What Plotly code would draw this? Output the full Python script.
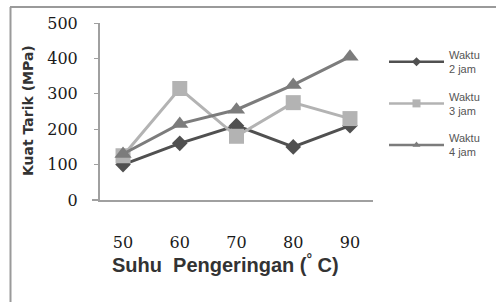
import plotly.graph_objects as go

temps = ["50", "60", "70", "80", "90"]
waktu2 = [100, 160, 210, 150, 210]
waktu3 = [125, 315, 180, 275, 230]
waktu4 = [130, 215, 255, 325, 405]
names = ["Waktu<br>2 jam", "Waktu<br>3 jam", "Waktu<br>4 jam"]
yticks = [0, 100, 200, 300, 400, 500]

colors = ["#505050", "#b3b3b3", "#7c7c7c"]
symbols = ["diamond", "square", "triangle-up"]
msizes = [12, 15, 15]
lsizes = [7, 8, 7]
series = [waktu2, waktu3, waktu4]

W, H = 496, 302
L, R, T, B = 100, 123, 23, 102

fig = go.Figure()
for i, ys in enumerate(series):
    fig.add_trace(go.Scatter(x=temps, y=ys, name=names[i], mode="lines+markers",
                             showlegend=False,
                             line=dict(color=colors[i], width=3),
                             marker=dict(symbol=symbols[i], size=msizes[i], color=colors[i])))
for i in range(3):
    fig.add_trace(go.Scatter(x=[None], y=[None], name=names[i], mode="lines+markers",
                             legendgroup="g%d" % i,
                             line=dict(color=colors[i], width=2.5),
                             marker=dict(symbol=symbols[i], size=lsizes[i], color=colors[i])))

pw, ph = W - L - R, H - T - B
def px(x):
    return (x - L) / pw
def py(y):
    return (H - B - y) / ph

tickfont = dict(family="DejaVu Serif", size=16, color="#1a1a1a")

fig.update_layout(
    width=W, height=H,
    margin=dict(l=L, r=R, t=T, b=B, autoexpand=False),
    paper_bgcolor="white", plot_bgcolor="white",
    showlegend=True,
    legend=dict(x=px(384), y=py(41), xanchor="left", yanchor="top",
                font=dict(family="Liberation Sans", size=11, color="#555"),
                itemwidth=55, tracegroupgap=10, bgcolor="rgba(0,0,0,0)"),
    xaxis=dict(type="category", showgrid=False, showline=True, linecolor="#a0a0a0",
               linewidth=2, ticks="", ticklabelstandoff=27, automargin=False,
               tickfont=tickfont, zeroline=False),
    yaxis=dict(range=[0, 500], tickvals=yticks, showgrid=False, showline=True,
               linecolor="#a0a0a0", linewidth=2, ticks="outside", ticklen=4,
               tickcolor="#a0a0a0", ticklabelstandoff=13, automargin=False,
               tickfont=tickfont, zeroline=False),
    annotations=[
        dict(text="<b>Suhu  Pengeringan (<sup>°</sup> C)</b>", xref="paper", yref="paper",
             x=px(225), y=py(263), xanchor="center", yanchor="middle",
             showarrow=False,
             font=dict(family="Liberation Sans", size=20, color="#333")),
        dict(text="<b>Kuat Tarik (MPa)</b>", xref="paper", yref="paper",
             x=px(28), y=py(111), xanchor="center", yanchor="middle", textangle=-90,
             showarrow=False,
             font=dict(family="DejaVu Sans", size=14, color="#333")),
    ],
    shapes=[
        dict(type="line", xref="paper", yref="paper", x0=px(10.5), x1=px(10.5),
             y0=py(7), y1=py(302), line=dict(color="#9a9a9a", width=2)),
        dict(type="line", xref="paper", yref="paper", x0=px(10), x1=px(496),
             y0=py(7), y1=py(7), line=dict(color="#9a9a9a", width=2)),
        dict(type="line", xref="paper", yref="paper", x0=px(92), x1=px(100),
             y0=0, y1=0, line=dict(color="#a0a0a0", width=2)),
    ],
)

fig.write_html("out.html", config={"displayModeBar": False},
               post_script="document.body.style.margin='0';document.body.style.overflow='hidden';")
